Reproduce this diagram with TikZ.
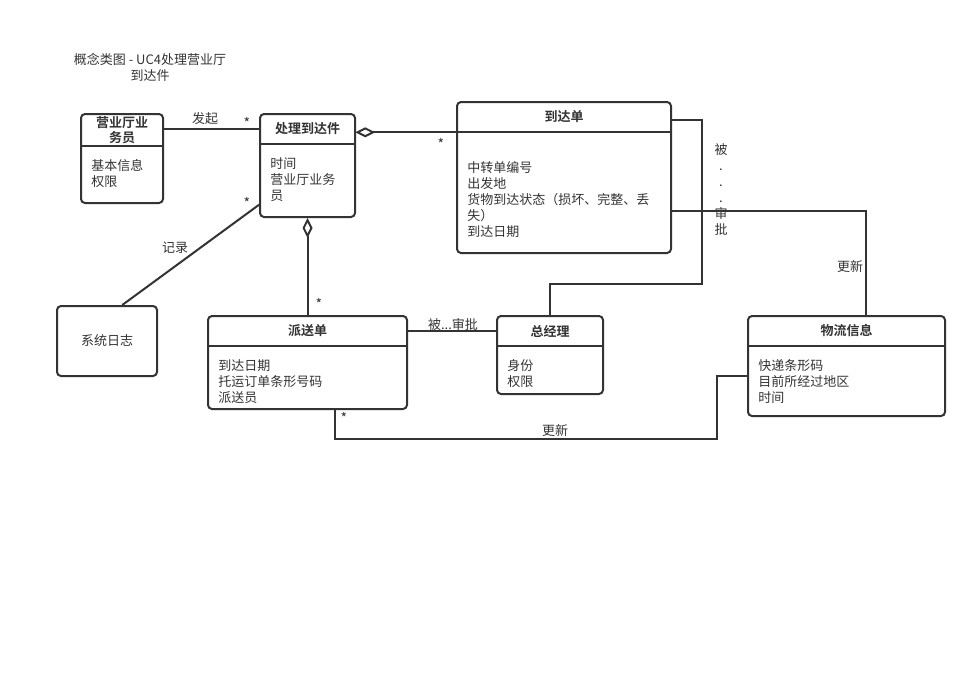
\documentclass[tikz,border=0pt]{standalone}
\usepackage{fontspec}
\setmainfont{Noto Sans CJK SC}[BoldFont={Noto Sans CJK SC Bold}]
\usepackage{tikz}
\usetikzlibrary{arrows,arrows.meta}
\usetikzlibrary{fit, calc}
\definecolor{umlgray}{HTML}{333333}

\begin{document}
\begin{tikzpicture}[x=0.75pt, y=-0.75pt, color=umlgray,
	font=\fontsize{9.75}{12}\selectfont,
	classbox/.style={draw, line width=1.5pt, rounded corners=3pt, inner sep=0pt},
	classhead/.style={inner sep=0pt},
	classname/.style={inner sep=0pt, align=center, font=\fontsize{9.75}{11.25}\selectfont\bfseries},
	attrs/.style={anchor=north west, inner sep=0pt, align=left},
	assoc/.style={line width=1.5pt},
	agg/.style={assoc, {Diamond[open, length=15pt, width=7.5pt]}-},
	mult/.style={inner sep=0pt, font=\fontsize{10.5}{10.5}\selectfont},
	lbl/.style={inner sep=0pt, align=center}]
	\useasboundingbox (0,0) rectangle (977,682);
%	title
	\node[lbl] (title) at (150,67) {概念类图 - UC4处理营业厅\\到达件};
%	classes
	\node[classbox, fit={(81,114) (163,203)}] (yyy) {};
	\node[classhead, fit={(81,114) (163,146)}] (yyyH) {};
	\node[classname] at (yyyH.center) {营业厅业\\务员};
	\draw[line width=1.5pt] (yyyH.south west) -- (yyyH.south east);
	\node[attrs] (yyyA) at (91,159) {基本信息\\权限};

	\node[classbox, fit={(260,114) (355,217)}] (clj) {};
	\node[classhead, fit={(260,114) (355,144)}] (cljH) {};
	\node[classname] at (cljH.center) {处理到达件};
	\draw[line width=1.5pt] (cljH.south west) -- (cljH.south east);
	\node[attrs] (cljA) at (270,157) {时间\\营业厅业务\\员};

	\node[classbox, fit={(457,102) (671,253)}] (ddan) {};
	\node[classhead, fit={(457,102) (671,132)}] (ddanH) {};
	\node[classname] at (ddanH.center) {到达单};
	\draw[line width=1.5pt] (ddanH.south west) -- (ddanH.south east);
	\node[attrs] (ddanA) at (467,161) {中转单编号\\出发地\\货物到达状态（损坏、完整、丢\\失）\\到达日期};

	\node[classbox, fit={(57,306) (157,376)}] (xtrz) {};
	\node[lbl] at (xtrz.center) {系统日志};

	\node[classbox, fit={(208,316) (407,409)}] (psd) {};
	\node[classhead, fit={(208,316) (407,346)}] (psdH) {};
	\node[classname] at (psdH.center) {派送单};
	\draw[line width=1.5pt] (psdH.south west) -- (psdH.south east);
	\node[attrs] (psdA) at (218,359) {到达日期\\托运订单条形号码\\派送员};

	\node[classbox, fit={(497,316) (603,394)}] (zjl) {};
	\node[classhead, fit={(497,316) (603,346)}] (zjlH) {};
	\node[classname] at (zjlH.center) {总经理};
	\draw[line width=1.5pt] (zjlH.south west) -- (zjlH.south east);
	\node[attrs] (zjlA) at (507,359) {身份\\权限};

	\node[classbox, fit={(748,316) (945,416)}] (wlxx) {};
	\node[classhead, fit={(748,316) (945,346)}] (wlxxH) {};
	\node[classname] at (wlxxH.center) {物流信息};
	\draw[line width=1.5pt] (wlxxH.south west) -- (wlxxH.south east);
	\node[attrs] (wlxxA) at (758,359) {快递条形码\\目前所经过地区\\时间};
%	associations
	\draw[assoc] (yyyH.east |- cljH.west) -- (cljH.west);
	\node[lbl] (fq) at (205,119) {发起};
	\node[mult] at (247,123) {*};

	\draw[agg] (cljH.east |- ddanH.south) -- (ddanH.south west);
	\node[mult] at (441,144) {*};

	\draw[agg] (clj.south) -- (psdH.north);
	\node[mult] at (319,304) {*};

	\draw[assoc] (clj.219) -- (xtrz.67);
	\node[lbl] (jl) at (175,248) {记录};
	\node[mult] at (247,203) {*};

	\draw[assoc] (psdH.east) -- (zjlH.west);
	\node[lbl] (bsp) at (453,325) {被...审批};

	\draw[assoc] (ddan.28) -- ++(30,0) |- ($(zjl.north)+(0,-31)$) -- (zjl.north);
	\node[lbl] (bsp2) at (721,190) {被\\.\\.\\.\\审\\批};

	\draw[assoc] (ddan.-17.4) -| (wlxx.69.7);
	\node[lbl] (gx1) at (850,267) {更新};

	\draw[assoc] (psd.-60.3) -- ++(0,29) -| ($(wlxx.186.4)+(-30,0)$) -- (wlxx.186.4);
	\node[lbl] (gx2) at (555,431) {更新};
	\node[mult] at (344,418) {*};
\end{tikzpicture}
\end{document}
